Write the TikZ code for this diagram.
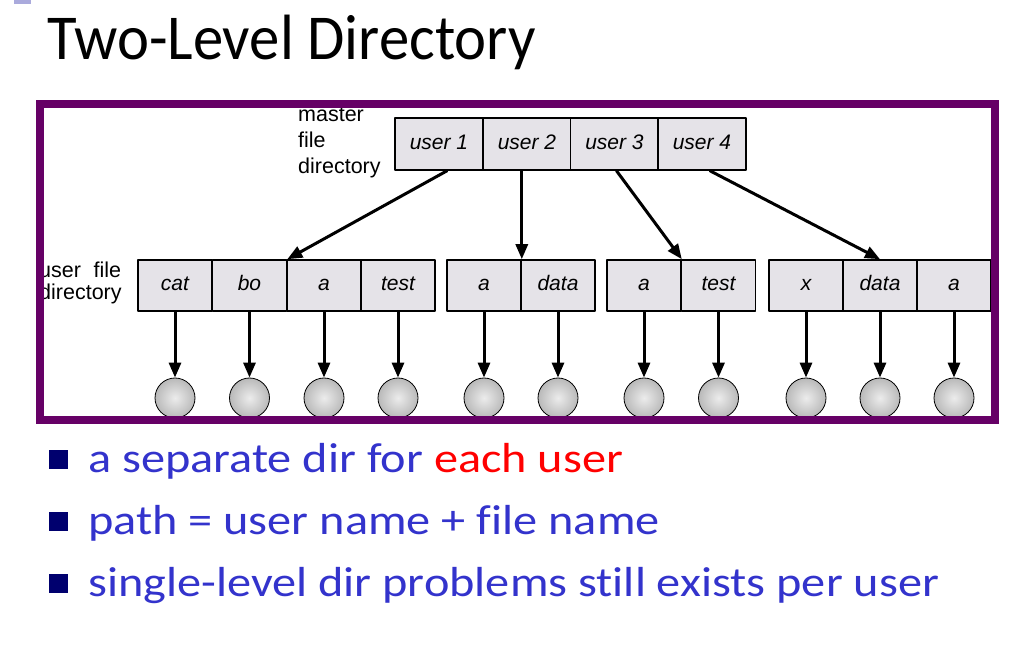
\documentclass[tikz,border=0pt]{standalone}
\usepackage{fontspec}
\setmainfont{Carlito}[Ligatures=NoCommon]
\newfontfamily\figfont{Liberation Sans}
\usetikzlibrary{arrows.meta}
\definecolor{framepurple}{RGB}{102,0,102}
\definecolor{boxgray}{RGB}{229,227,232}
\definecolor{bulletnavy}{RGB}{0,0,110}
\definecolor{textblue}{RGB}{51,51,204}
\definecolor{cornerlav}{RGB}{170,170,220}

\begin{document}
\begin{tikzpicture}[x=1pt, y=-1pt, line cap = round, line join = round, >={Triangle[length=15pt,width=12pt]}]
\tikzstyle{mfd}=[draw=black, line width=1.6pt, fill=boxgray, minimum width=88pt, minimum height=52pt, inner sep=0pt, text height=15pt, text depth=4pt, font=\figfont\itshape\fontsize{21}{24}\selectfont]
\tikzstyle{ufd}=[mfd, minimum width=74pt, minimum height=51pt]
\tikzstyle{filenode}=[circle, draw=black, line width=0.8pt, inner color=gray!15, outer color=gray!55, minimum size=40pt, inner sep=0pt]
\tikzstyle{ptr}=[line width=3pt, ->]
\tikzstyle{bullet}=[fill=bulletnavy, minimum size=19pt, inner sep=0pt]
\tikzstyle{point}=[anchor=base west, text=textblue, inner sep=0pt, font=\fontsize{42}{48}\selectfont]
\tikzstyle{lbl}=[anchor=north west, align=left, inner sep=0pt, font=\figfont\fontsize{21.5}{26}\selectfont]
\useasboundingbox (0,0) rectangle (1021,671);
\fill[cornerlav] (14,0) rectangle (31,4);

\node[anchor=base west, inner sep=0pt, font=\fontsize{64}{70}\selectfont] (title) at (47,60) {\scalebox{0.948}[1]{Two-Level Directory}};

% master file directory
\node[lbl] (mlabel) at (298,107.5) {master\\file\\directory};
\node[mfd] (u1) at (439,144) {user 1};
\node[mfd] (u2) at (527,144) {user 2};
\node[mfd] (u3) at (614.5,144) {user 3};
\node[mfd] (u4) at (702,144) {user 4};

% user file directories
\node[lbl, text width=82pt, font=\figfont\fontsize{21.5}{22}\selectfont] (ulabel) at (39,261.5) {user\hfill file\\directory};
\node[ufd] (a1) at (175,285.5) {cat};
\node[ufd] (a2) at (249.5,285.5) {bo};
\node[ufd] (a3) at (324,285.5) {a};
\node[ufd] (a4) at (398,285.5) {test};
\node[ufd] (b1) at (484,285.5) {a};
\node[ufd] (b2) at (558,285.5) {data};
\node[ufd] (c1) at (644,285.5) {a};
\node[ufd] (c2) at (718.5,285.5) {test};
\node[ufd] (d1) at (806,285.5) {x};
\node[ufd] (d2) at (880,285.5) {data};
\node[ufd] (d3) at (954,285.5) {a};

\draw[ptr] ([xshift=8pt]u1.south) -- (a2.north east);
\draw[ptr] (b1.north east |- u2.south) -- (b1.north east);
\draw[ptr] ([xshift=2pt]u3.south) -- (c1.north east);
\draw[ptr] ([xshift=8pt]u4.south) -- (d2.north);

% files
\foreach \f in {a1,a2,a3,a4,b1,b2,c1,c2,d1,d2,d3} {
  \node[filenode] (\f-file) at (\f.center |- 0,398) {};
  \draw[ptr] (\f.south) -- (\f-file.north);
}

\draw[framepurple, line width=8pt, line cap=butt, line join=miter] (39.5,104) rectangle (994.5,419.5);

% bullet points
\node[bullet] (p1) at (58,459.5) {};
\node[bullet] (p2) at (58,521.5) {};
\node[bullet] (p3) at (58,583.5) {};
\node[point] (t1) at (88,472) {\scalebox{1.15}[1]{a separate dir for \textcolor{red}{each user}}};
\node[point] (t2) at (88,534) {\scalebox{1.15}[1]{path = user name + file name}};
\node[point] (t3) at (88,596) {\scalebox{1.15}[1]{single-level dir problems still exists per user}};
\end{tikzpicture}
\end{document}
